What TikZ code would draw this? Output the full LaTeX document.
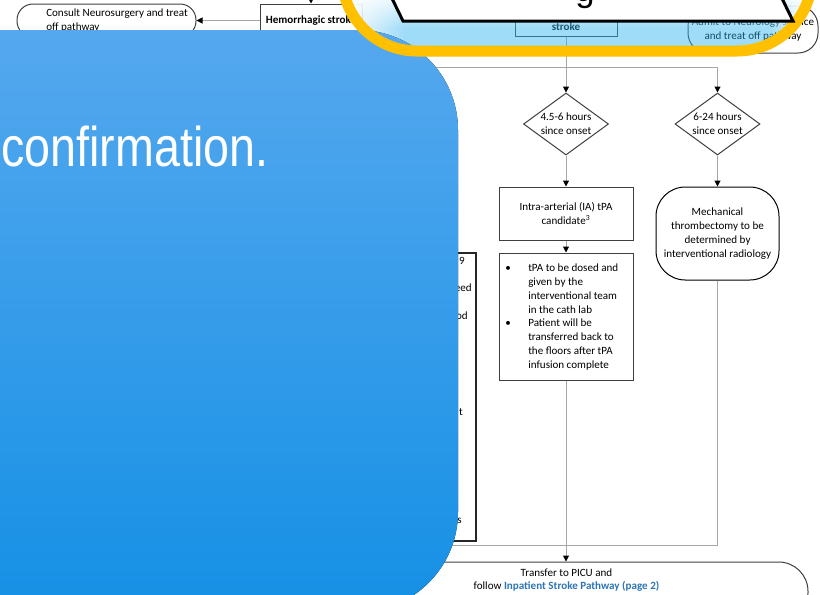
\documentclass[tikz,border=0pt]{standalone}
\usepackage{fontspec}
\setmainfont{Carlito}
\newfontfamily\slidefont{Liberation Sans}
\usetikzlibrary{shapes.geometric,arrows.meta,fadings}

\definecolor{linegray}{HTML}{A6A6A6}
\definecolor{boxline}{HTML}{3F3F3F}
\definecolor{linkblue}{HTML}{2E75B6}
\definecolor{calloutfill}{HTML}{2CB2F0}
\definecolor{ringyellow}{HTML}{FFC000}
\definecolor{paneltop}{HTML}{55A8EE}
\definecolor{panelmid}{HTML}{22A0F5}
\definecolor{panelbot}{HTML}{1590E5}

\tikzset{
  flowtext/.style={font=\fontsize{8.3}{10.3}\selectfont},
  boldtext/.style={font=\fontsize{8.3}{10.3}\selectfont\bfseries},
  box/.style={draw=boxline, line width=0.75pt, rectangle, inner sep=0pt},
  decision/.style={draw=boxline, line width=0.75pt, diamond, inner sep=0pt,
    minimum width=63.75pt, minimum height=46.5pt},
  link/.style={draw=linegray, line width=0.75pt},
  conn/.style={link, -{Triangle[width=4.5pt,length=4.5pt,color=black]}},
}

\begin{document}
\begin{tikzpicture}[x=0.75pt,y=-0.75pt, every node/.style={inner sep=0pt, flowtext}]
\useasboundingbox (0,0) rectangle (820,594);
\fill[white] (0,0) rectangle (820,594);

% ---------- flowchart ----------
\node[box, rounded corners=12pt, minimum width=134.25pt, minimum height=24.75pt] (consult) at (106.5,20.5) {};
\node[anchor=west, align=left] (consulttxt) at (46,20.5) {Consult Neurosurgery and treat\\off pathway};
\node[box, boldtext, minimum width=76.5pt, minimum height=24.75pt] (hemo) at (311,20.5) {Hemorrhagic stroke};
\coordinate (hemoin) at (311,-20);
\draw[conn] (hemoin) -- (hemo.north);
\draw[conn] (hemo.west) -- (consult.east);

\node[box, boldtext, minimum width=76.5pt, minimum height=13.5pt] (stroke) at (566,27) {stroke};
\node[box, rounded corners=15pt, minimum width=97.5pt, minimum height=35.25pt, align=center] (admit) at (753,29.5) {Admit to Neurology service\\and treat off pathway};

\coordinate (splitL) at (300,67);
\coordinate (splitR) at (717.5,67);

\node[decision] (d1) at (566,124) {};
\node[align=center] (d1txt) at (566,124) {4.5-6 hours\\since onset};
\node[decision] (d2) at (717.5,124) {};
\node[align=center] (d2txt) at (717.5,124) {6-24 hours\\since onset};

\node[box, minimum width=100.5pt, minimum height=39.75pt, align=center] (ia) at (566,213.5) {Intra-arterial (IA) tPA\\candidate\textsuperscript{3}};

\node[box, minimum width=100.5pt, minimum height=95.25pt] (bul) at (566,316.5) {};
\node[anchor=west, align=left] (bultxt) at (505,317) {%
\makebox[17.25pt][l]{\textbullet}tPA to be dosed and\\
\hspace*{17.25pt}given by the\\
\hspace*{17.25pt}interventional team\\
\hspace*{17.25pt}in the cath lab\\
\makebox[17.25pt][l]{\textbullet}Patient will be\\
\hspace*{17.25pt}transferred back to\\
\hspace*{17.25pt}the floors after tPA\\
\hspace*{17.25pt}infusion complete};

\node[draw=black, line width=0.75pt, rounded corners=22pt, minimum width=92.25pt, minimum height=69.75pt, align=center] (mech) at (717.5,233.5) {Mechanical\\thrombectomy to be\\determined by\\interventional radiology};

\node[box, line width=0.9pt, draw=black!85, minimum width=132pt, minimum height=216pt] (leftbox) at (388,397) {};
\node[anchor=east] (frag1) at (465,261) {9};
\node[anchor=east] (frag2) at (472,288) {eed};
\node[anchor=east] (frag3) at (468,316) {od};
\node[anchor=east] (frag4) at (463,412) {t};
\node[anchor=east] (frag5) at (462,521) {s};

\node[box, rounded corners=22pt, minimum width=362.25pt, minimum height=45pt] (picu) at (566.5,592) {};
\node[align=center] (picutxt) at (566.5,580) {Transfer to PICU and\\follow {\bfseries\color{linkblue}Inpatient Stroke Pathway (page 2)}};

\draw[conn] (stroke.south) -- (d1.north);
\draw[link] (splitL) -- (splitR);
\draw[conn] (splitR) -- (d2.north);
\draw[conn] (d1.south) -- (ia.north);
\draw[conn] (d2.south) -- (mech.north);
\draw[conn] (ia.south) -- (bul.north);
\draw[conn] (bul.south) -- (bul.south |- picu.north);
\coordinate (mergeL) at (300,545);
\draw[link] (mech.south) |- (mergeL);

% ---------- callout tint ----------
\begin{scope}
  \clip[rounded corners=56.25pt] (342,-150) rectangle (812,51);
  \fill[calloutfill, fill opacity=0.45] (330,-160) rectangle (830,60);
  \fill[white, path fading=east] (342,-10) rectangle (405,60);
  \fill[white, path fading=west] (770,-10) rectangle (812,60);
  \fill[white, path fading=south] (330,-10) rectangle (830,28);
\end{scope}

% ---------- blue panel ----------
\fill[top color=paneltop, middle color=panelmid, bottom color=panelbot, rounded corners=75pt] (-100,30) rectangle (458,612);
\node[anchor=base west, text=white, font=\slidefont\fontsize{35}{40}\selectfont] (conf) at (1,166) {\scalebox{1}[1.2]{confirmation.}};

% ---------- callout frame ----------
\draw[ringyellow, line width=8.25pt, rounded corners=56.25pt] (342,-150) rectangle (812,51);
\filldraw[fill=white, draw=black, line width=2.25pt] (383,-20) -- (403,21) -- (793,21) -- (773,-20) -- cycle;
\begin{scope}
  \clip (383,-20) -- (403,20) -- (793,20) -- (773,-20) -- cycle;
  \node[anchor=base, font=\slidefont\fontsize{26}{30}\selectfont] (gword) at (585,1) {g};
\end{scope}
\end{tikzpicture}
\end{document}
